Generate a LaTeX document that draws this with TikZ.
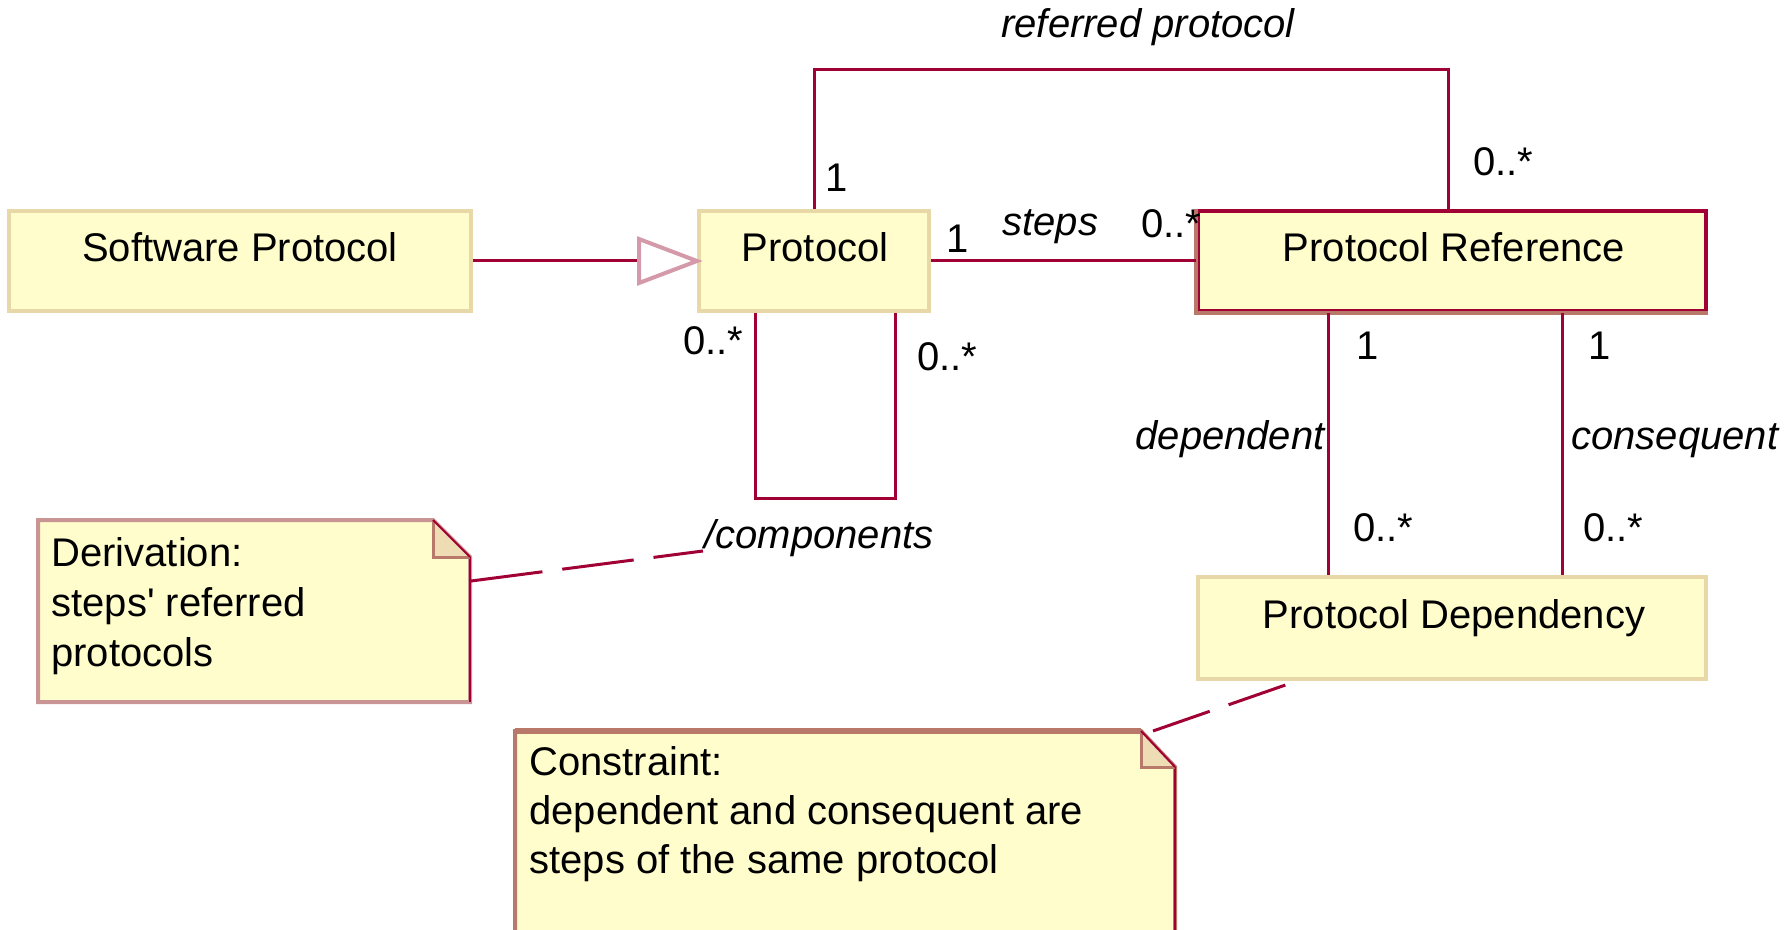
\documentclass[tikz,border=0pt]{standalone}
\usepackage{fontspec}
\setmainfont{Liberation Sans}
\definecolor{boxfill}{HTML}{FFFDCC}
\definecolor{boxedge}{HTML}{E8D8A8}
\definecolor{assoc}{HTML}{A00034}
\definecolor{noteedge}{HTML}{C89494}
\definecolor{foldfill}{HTML}{EEDCB4}
\definecolor{brownedge}{HTML}{B8786A}
\definecolor{tripink}{HTML}{D49AAA}
\begin{document}
\begin{tikzpicture}[x=0.5pt,y=-0.5pt,
  cls/.style={rectangle, draw=boxedge, fill=boxfill, line width=2pt, minimum height=50pt, inner sep=0pt},
  lbl/.style={inner sep=0pt, yshift=-1.5pt, font=\fontsize{20}{24}\selectfont},
  ilbl/.style={inner sep=0pt, yshift=-1.5pt, font=\fontsize{20}{24}\selectfont\itshape},
  assocline/.style={draw=assoc, line width=1.5pt},
  notelink/.style={draw=assoc, line width=1.5pt, dash pattern=on 36pt off 10pt},
  notebody/.style={fill=boxfill, draw=noteedge, line width=2pt},
  foldstyle/.style={fill=foldfill, draw=brownedge, line width=1.5pt},
]
\useasboundingbox (0,0) rectangle (1788,930);

% ---------- classes ----------
\node[cls, minimum width=231pt] (sw) at (240,261) {};
\node[cls, minimum width=115pt] (proto) at (814,261) {};
\node[cls, minimum width=254pt, draw=assoc] (pref) at (1452,261) {};
\draw[brownedge, line width=2pt] (pref.north west) -- (pref.south west) -- (pref.south east);
\node[cls, minimum width=254pt, minimum height=51pt] (pdep) at (1452,628) {};

\node[lbl, anchor=base] (swt) at (240,259) {Software Protocol};
\node[lbl, anchor=base] (protot) at (815,259) {Protocol};
\node[lbl, anchor=base] (preft) at (1454,259) {Protocol Reference};
\node[lbl, anchor=base] (pdept) at (1454,625) {Protocol Dependency};

% ---------- generalization ----------
\coordinate (gbase) at (639,261);
\coordinate (gtop) at (639,239);
\coordinate (gbot) at (639,283);
\draw[assocline] (sw.east) -- (gbase);
\draw[tripink, line width=2pt, line join=miter] (gtop) -- (proto.west) -- (gbot) -- cycle;

% ---------- referred protocol ----------
\coordinate (rpc) at (1448,70);
\draw[assocline] (proto.north) |- (rpc) -- (rpc |- pref.north);
\node[ilbl, anchor=base west] (rplbl) at (1001,35) {referred protocol};
\node[lbl, anchor=base] (rp1) at (837,189) {1};
\node[lbl, anchor=base west] (rpm) at (1473,173) {0..*};

% ---------- steps ----------
\draw[assocline] (proto.east) -- (pref.west);
\node[lbl, anchor=base] (st1) at (958,250) {1};
\node[ilbl, anchor=base west] (stl) at (1002,233) {steps};
\node[lbl, anchor=base west] (stm) at (1141,235) {0..*};

% ---------- components self loop ----------
\coordinate (lpA) at (755,498);
\coordinate (lpB) at (895,498);
\draw[assocline] (proto.south -| lpA) -- (lpA) -- (lpB) -- (proto.south -| lpB);
\node[lbl, anchor=base west] (cm1) at (683,352) {0..*};
\node[lbl, anchor=base west] (cm2) at (917,368) {0..*};
\node[ilbl, anchor=base west] (cml) at (704,545) {/components};

% ---------- dependent / consequent ----------
\coordinate (dx) at (1328,0);
\coordinate (cx) at (1562,0);
\draw[assocline] (pref.south -| dx) -- (pdep.north -| dx);
\draw[assocline] (pref.south -| cx) -- (pdep.north -| cx);
\node[lbl, anchor=base] (d1) at (1368,357) {1};
\node[lbl, anchor=base] (c1) at (1600,357) {1};
\node[ilbl, anchor=base east] (dl) at (1325,447) {dependent};
\node[ilbl, anchor=base west] (cl) at (1571,447) {consequent};
\node[lbl, anchor=base west] (dm) at (1353,538) {0..*};
\node[lbl, anchor=base west] (cm) at (1583,538) {0..*};

% ---------- derivation note ----------
\path[notebody] (38,520) -- (433,520) -- (470,557) -- (470,702) -- (38,702) -- cycle;
\draw[assoc, line width=1pt] (470,557) -- (470,702);
\draw[foldstyle] (433,520) -- (433,557) -- (470,557);
\draw[assoc, line width=1pt] (433,520) -- (470,557);
\node[lbl, anchor=base west] (dn1) at (51,563) {Derivation:};
\node[lbl, anchor=base west] (dn2) at (51,613) {steps\textquotesingle{} referred};
\node[lbl, anchor=base west] (dn3) at (51,663) {protocols};
\coordinate (dnlink) at (471,581);
\coordinate (cmlink) at (703,551);
\draw[notelink] (dnlink) -- (cmlink);

% ---------- constraint note ----------
\path[notebody, draw=brownedge] (515,731) -- (1141,731) -- (1175,767) -- (1175,960) -- (515,960) -- cycle;
\draw[brownedge, line width=3pt] (515,731) -- (1141,731);
\draw[assoc, line width=1pt] (1175,767) -- (1175,960);
\draw[foldstyle] (1141,731) -- (1141,767) -- (1175,767);
\draw[assoc, line width=1pt] (1141,731) -- (1175,767);
\node[lbl, anchor=base west] (cn1) at (529,772) {Constraint:};
\node[lbl, anchor=base west] (cn2) at (529,821) {dependent and consequent are};
\node[lbl, anchor=base west] (cn3) at (529,870) {steps of the same protocol};
\coordinate (cnlink) at (1153,731);
\coordinate (pdl) at (1297,0);
\draw[notelink, dash pattern=on 30pt off 10pt] (cnlink) -- (pdep.south -| pdl);
\end{tikzpicture}
\end{document}
